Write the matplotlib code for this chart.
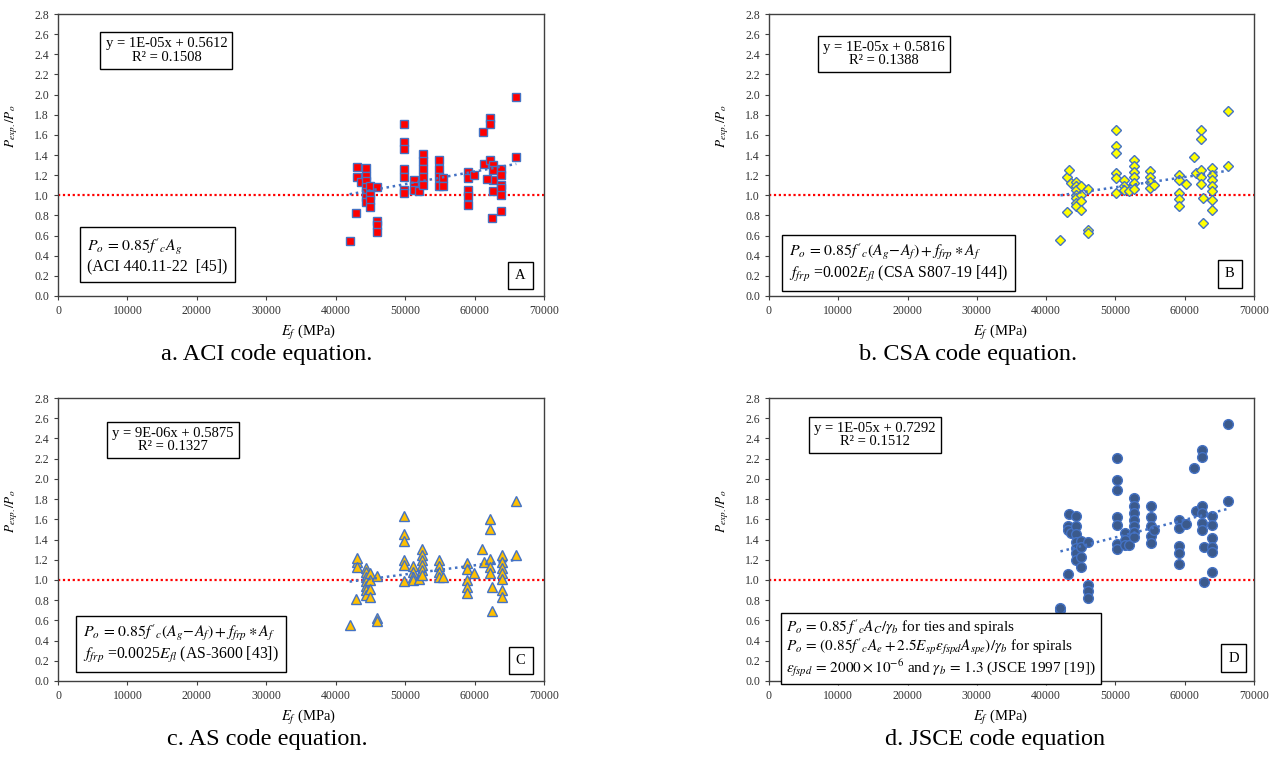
import numpy as np
import matplotlib
matplotlib.use("Agg")
import matplotlib.pyplot as plt

plt.rcParams['font.family'] = ['Liberation Serif', 'DejaVu Serif']
plt.rcParams['mathtext.fontset'] = 'stix'

# --- data (E_f in MPa, P_exp/P_o) ---
x_aci = [42000, 42950, 43000, 43100, 43700,
         44300, 44300, 44300, 44300, 44300, 44300, 44300,
         45000, 45000, 45000, 45000,
         46000, 46000, 46000, 46000,
         49900, 49900, 49900, 49900, 49900, 49900, 49900,
         51200, 51200, 51200, 52000,
         52500, 52500, 52500, 52500, 52500,
         54860, 54860, 54860, 54860, 55400, 55400,
         59000, 59000, 59000, 59000, 59000, 59900,
         61200, 62250, 62250, 61340, 62250,
         62640, 62640, 62640, 62640, 61800, 62550,
         63850, 63850, 63850, 63850, 63850, 63850,
         66000, 66000]
y_aci = [0.55, 0.82, 1.18, 1.28, 1.13,
         1.27, 1.19, 1.14, 1.08, 1.03, 0.98, 0.93,
         1.09, 1.00, 0.95, 0.88,
         1.08, 0.74, 0.70, 0.64,
         1.71, 1.53, 1.46, 1.26, 1.18, 1.05, 1.02,
         1.15, 1.09, 1.05, 1.04,
         1.41, 1.34, 1.26, 1.18, 1.10,
         1.35, 1.26, 1.18, 1.09, 1.17, 1.09,
         1.23, 1.17, 1.05, 0.99, 0.90, 1.20,
         1.63, 1.77, 1.71, 1.31, 1.35,
         1.30, 1.25, 1.15, 1.04, 1.16, 0.77,
         1.26, 1.20, 1.10, 1.07, 1.00, 0.84,
         1.98, 1.38]

x_csa = [42070, 43030, 43000, 43300, 43650,
         44380, 44380, 44380, 44380, 44380, 44380, 44380,
         45100, 45100, 45100, 45100,
         46100, 46100, 46100,
         50070, 50070, 50070, 50070, 50070, 50070,
         51300, 51300, 51300, 51950,
         52680, 52680, 52680, 52680, 52680, 52680,
         54990, 54990, 54990, 54990, 55570,
         59190, 59190, 59190, 59190, 59190, 60150,
         61360, 62420, 62420, 61600, 62420, 62420, 62420,
         62710, 62710,
         63960, 63960, 63960, 63960, 63960, 63960, 63960,
         66180, 66180]
y_csa = [0.56, 0.83, 1.18, 1.25, 1.12,
         1.13, 1.09, 1.05, 1.00, 0.97, 0.92, 0.89,
         1.09, 1.00, 0.94, 0.85,
         1.06, 0.66, 0.63,
         1.65, 1.49, 1.42, 1.22, 1.17, 1.02,
         1.15, 1.09, 1.05, 1.04,
         1.35, 1.29, 1.23, 1.18, 1.12, 1.06,
         1.24, 1.18, 1.13, 1.07, 1.10,
         1.20, 1.15, 1.02, 0.96, 0.89, 1.11,
         1.38, 1.65, 1.56, 1.22, 1.25, 1.18, 1.11,
         0.97, 0.72,
         1.27, 1.20, 1.15, 1.09, 1.04, 0.95, 0.85,
         1.84, 1.29]

x_as = [42000, 42950, 43000, 43100, 43000,
        44300, 44300, 44300, 44300, 44300, 44300, 44300,
        45000, 45000, 45000, 45000,
        45900, 45900, 45900,
        49900, 49900, 49900, 49900, 49900, 49900,
        51100, 51100, 51100, 51100, 52000,
        52460, 52460, 52460, 52460, 52460, 52460,
        54860, 54860, 54860, 54860, 55400,
        58950, 58950, 58950, 58950, 58950, 59900,
        61100, 62250, 62250, 61400, 62250, 62250, 62250,
        62550, 62550,
        63900, 63900, 63900, 63900, 63900, 63900, 63900,
        65900, 65900]
y_as = [0.55, 0.81, 1.18, 1.22, 1.13,
        1.12, 1.08, 1.03, 0.99, 0.94, 0.90, 0.85,
        1.07, 1.00, 0.91, 0.83,
        1.04, 0.62, 0.59,
        1.63, 1.45, 1.39, 1.20, 1.15, 0.99,
        1.14, 1.08, 1.03, 1.00, 1.01,
        1.31, 1.25, 1.20, 1.15, 1.10, 1.05,
        1.20, 1.14, 1.08, 1.03, 1.03,
        1.17, 1.11, 1.00, 0.93, 0.87, 1.07,
        1.31, 1.60, 1.50, 1.18, 1.21, 1.13, 1.07,
        0.93, 0.69,
        1.25, 1.18, 1.12, 1.07, 1.01, 0.90, 0.83,
        1.78, 1.25]

x_jsce = [42070, 42070, 43100, 43100, 43100, 43300, 43650,
          44380, 44380, 44380, 44380, 44380, 44380, 44380,
          45100, 45100, 45100, 45100,
          46100, 46100, 46100, 46100,
          50170, 50170, 50170, 50170, 50170, 50170, 50170,
          51370, 51370, 51370, 51950,
          52680, 52680, 52680, 52680, 52680, 52680, 52680,
          55100, 55100, 55100, 55100, 55100, 55600,
          59190, 59190, 59190, 59190, 59190, 60200,
          61410, 62570, 62570, 61600, 62570, 62570, 62570, 62570,
          62790, 62790,
          63960, 63960, 63960, 63960, 63960, 63960,
          66250, 66250]
y_jsce = [0.70, 0.72, 1.06, 1.53, 1.49, 1.65, 1.46,
          1.63, 1.53, 1.45, 1.38, 1.32, 1.27, 1.20,
          1.39, 1.33, 1.23, 1.13,
          1.38, 0.95, 0.89, 0.82,
          2.21, 1.99, 1.89, 1.62, 1.54, 1.36, 1.31,
          1.46, 1.40, 1.35, 1.35,
          1.81, 1.73, 1.66, 1.59, 1.53, 1.47, 1.42,
          1.73, 1.62, 1.53, 1.43, 1.37, 1.49,
          1.59, 1.51, 1.34, 1.27, 1.16, 1.55,
          2.11, 2.29, 2.22, 1.68, 1.73, 1.66, 1.56, 1.49,
          1.33, 0.98,
          1.63, 1.54, 1.41, 1.33, 1.28, 1.08,
          2.54, 1.78]

x_ticks = [0, 10000, 20000, 30000, 40000, 50000, 60000, 70000]
y_ticks = [0.0, 0.2, 0.4, 0.6, 0.8, 1.0, 1.2, 1.4, 1.6, 1.8, 2.0, 2.2, 2.4, 2.6, 2.8]

eq_aci = "y = 1E-05x + 0.5612\nR² = 0.1508"
eq_csa = "y = 1E-05x + 0.5816\nR² = 0.1388"
eq_as = "y = 9E-06x + 0.5875\nR² = 0.1327"
eq_jsce = "y = 1E-05x + 0.7292\nR² = 0.1512"

f_aci = r"$P_o\,=\,0.85f'_{c}A_g$" + "\n(ACI 440.11-22  [45])"
f_csa = (r"$P_o\,=\,0.85f'_{c}(A_g\!-\!A_f)+f_{frp}\ast A_f$" + "\n"
         + r"$f_{frp}$ =0.002$E_{fl}$ (CSA S807-19 [44])")
f_as = (r"$P_o\,=\,0.85f'_{c}(A_g\!-\!A_f)+f_{frp}\ast A_f$" + "\n"
        + r"$f_{frp}$ =0.0025$E_{fl}$ (AS-3600 [43])")
f_jsce = (r"$P_o\,=\,0.85\,f'_{c}A_C/\gamma_b$ for ties and spirals" + "\n"
          + r"$P_o\,=\,(0.85f'_{c}A_e+2.5E_{sp}\varepsilon_{fspd}A_{spe})/\gamma_b$ for spirals" + "\n"
          + r"$\varepsilon_{fspd}\,=\,2000\times10^{-6}$ and $\gamma_b\,=\,1.3$ (JSCE 1997 [19])")

captions = ["a. ACI code equation.", "b. CSA code equation.",
            "c. AS code equation.", "d. JSCE code equation"]

BLUE = '#4472C4'
SPINE = '#404040'


def draw_panel(ax, x, y, marker, fc, ms, eq, eq_pos, formula, f_pos, letter, l_pos,
               xl_pos, fsize=11.3, ls=1.15, fpad=0.45):
    x = np.array(x, dtype=float)
    y = np.array(y, dtype=float)
    ax.axhline(1.0, color='red', ls=(0, (1, 1.2)), lw=1.6, zorder=1)
    ax.plot(x, y, ls='none', marker=marker, ms=ms, mfc=fc, mec=BLUE, mew=1.0, zorder=3)
    k, b = np.polyfit(x, y, 1)
    xs = np.array([x.min(), x.max()])
    ax.plot(xs, k * xs + b, color=BLUE, ls=(0, (1, 1.5)), lw=1.8, zorder=4)

    ax.set_xlim(0, 70000)
    ax.set_ylim(0, 2.8)
    ax.set_xticks(x_ticks)
    ax.set_yticks(y_ticks)
    ax.set_yticklabels([f"{v:.1f}" for v in y_ticks])
    ax.tick_params(labelsize=8.5, length=3, color=SPINE, labelcolor='#333333')
    for s in ax.spines.values():
        s.set_color(SPINE)
        s.set_linewidth(1.0)
    ax.set_xlabel(r"$E_f$ (MPa)", fontsize=10.5, labelpad=4)
    ax.xaxis.set_label_coords(xl_pos, -0.095)
    ax.set_ylabel(r"$P_{exp.}/P_o$", fontsize=9.5)
    ax.yaxis.set_label_coords(-0.078, 0.60)

    box = dict(boxstyle='square,pad=0.35', fc='white', ec='black', lw=1.0)
    ax.text(eq_pos[0], eq_pos[1], eq, transform=ax.transAxes, ha='center', va='center',
            fontsize=10.5, linespacing=1.05, bbox=box, zorder=6)
    ax.text(f_pos[0], f_pos[1], formula, transform=ax.transAxes, ha='left', va='center',
            fontsize=fsize, linespacing=ls,
            bbox=dict(boxstyle=f'square,pad={fpad}', fc='white', ec='black', lw=1.0), zorder=6)
    ax.text(l_pos[0], l_pos[1], letter, transform=ax.transAxes, ha='center', va='center',
            fontsize=10.5, bbox=dict(boxstyle='square,pad=0.5', fc='white', ec='black', lw=1.0),
            zorder=6)


fig = plt.figure(figsize=(12.78, 7.70), dpi=100)
ax_a = fig.add_axes([0.0454, 0.6156, 0.3803, 0.3662])
ax_b = fig.add_axes([0.6017, 0.6156, 0.3795, 0.3662])
ax_c = fig.add_axes([0.0454, 0.1156, 0.3803, 0.3675])
ax_d = fig.add_axes([0.6017, 0.1156, 0.3795, 0.3675])

draw_panel(ax_a, x_aci, y_aci, 's', 'red', 5.5, eq_aci, (0.223, 0.871),
           f_aci, (0.060, 0.143), 'A', (0.951, 0.073), 0.516)
draw_panel(ax_b, x_csa, y_csa, 'D', 'yellow', 5.0, eq_csa, (0.237, 0.858),
           f_csa, (0.041, 0.117), 'B', (0.950, 0.078), 0.478)
draw_panel(ax_c, x_as, y_as, '^', '#FFC000', 6.5, eq_as, (0.237, 0.852),
           f_as, (0.051, 0.131), 'C', (0.952, 0.073), 0.516)
draw_panel(ax_d, x_jsce, y_jsce, 'o', '#3B5A8C', 7.0, eq_jsce, (0.219, 0.869),
           f_jsce, (0.036, 0.117), 'D', (0.958, 0.081), 0.478, fsize=11.0, ls=1.0, fpad=0.35)

cap_pos = [(267, 354), (968, 354), (267, 740), (995, 740)]
for (px, py), cap in zip(cap_pos, captions):
    fig.text(px / 1278, 1 - py / 770, cap, ha='center', va='center', fontsize=17.5)

fig.savefig("out.png", dpi=100)
